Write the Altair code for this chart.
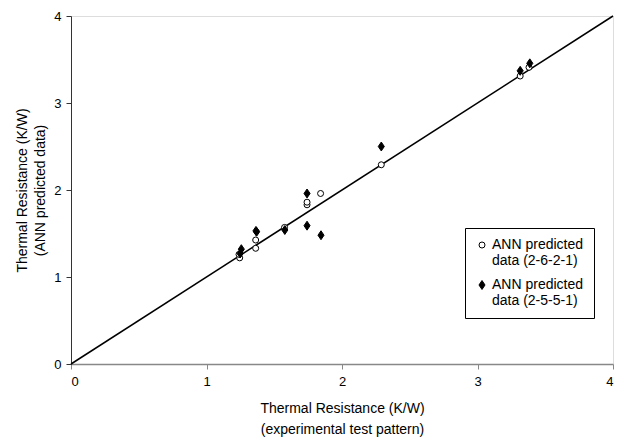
import altair as alt
import pandas as pd

# ANN predicted data (2-6-2-1): open circles
x_a = [1.245, 1.24, 1.363, 1.363, 1.576, 1.742, 1.742, 1.842, 2.29, 3.315, 3.38]
y_a = [1.22, 1.26, 1.33, 1.425, 1.57, 1.83, 1.86, 1.96, 2.29, 3.31, 3.41]
# ANN predicted data (2-5-5-1): filled diamonds
x_b = [1.248, 1.257, 1.365, 1.37, 1.578, 1.742, 1.742, 1.845, 2.29, 3.315, 3.386]
y_b = [1.27, 1.32, 1.53, 1.52, 1.54, 1.96, 1.59, 1.48, 2.50, 3.37, 3.456]

series_names = ["ANN predicted data (2-6-2-1)", "ANN predicted data (2-5-5-1)"]
line_x = [0, 4]
line_y = [0, 4]
ticks = [0, 1, 2, 3, 4]

df = pd.DataFrame({
    "x": x_a + x_b,
    "y": y_a + y_b,
    "series": [series_names[0]] * len(x_a) + [series_names[1]] * len(x_b),
})
df_line = pd.DataFrame({"x": line_x, "y": line_y})

FONT = "Liberation Sans"

xs = alt.Scale(domain=[0, 4], nice=False, zero=False)
ys = alt.Scale(domain=[0, 4], nice=False, zero=False)

xaxis = alt.Axis(
    values=ticks, format="d", grid=False,
    title=["Thermal Resistance (K/W)", "(experimental test pattern)"],
    titleFontSize=14, titleFontWeight="normal", titleFont=FONT, titleColor="black",
    titleLineHeight=21, titleBaseline="middle", titleY=44,
    labelFontSize=13, labelFont=FONT, labelColor="black", labelPadding=6,
    domainColor="#888888", tickColor="#888888", tickSize=5, domainWidth=1.5,
)
yaxis = alt.Axis(
    values=ticks, format="d", grid=False,
    title=["Thermal Resistance (K/W)", "(ANN predicted data)"],
    titleFontSize=14, titleFontWeight="normal", titleFont=FONT, titleColor="black",
    titleLineHeight=18, titleBaseline="middle", titleAngle=-90, titleX=-49, titleY=174,
    labelFontSize=13, labelFont=FONT, labelColor="black", labelPadding=5,
    domainColor="#333333", tickColor="#333333", tickSize=5,
)

line = alt.Chart(df_line).mark_line(color="black", strokeWidth=1.5).encode(
    x=alt.X("x:Q", scale=xs, axis=xaxis),
    y=alt.Y("y:Q", scale=ys, axis=yaxis),
)

diamond_path = "M0,-1L0.68,0L0,1L-0.68,0Z"

legend = alt.Legend(
    title=None, orient="none", legendX=394, legendY=212,
    strokeColor="black", fillColor="white", padding=10,
    labelFont=FONT, labelFontSize=14, labelColor="black",
    labelExpr="[slice(datum.label, 0, 13), slice(datum.label, 14)]",
    rowPadding=10, symbolStrokeWidth=1, labelOffset=3,
)

pts = alt.Chart(df).mark_point(filled=False, stroke="black", strokeWidth=1, opacity=1).encode(
    x=alt.X("x:Q", scale=xs),
    y=alt.Y("y:Q", scale=ys),
    shape=alt.Shape("series:N", scale=alt.Scale(domain=series_names, range=["circle", diamond_path]), legend=legend),
    fill=alt.Fill("series:N", scale=alt.Scale(domain=series_names, range=["white", "black"]), legend=legend),
    size=alt.Size("series:N", scale=alt.Scale(domain=series_names, range=[36, 80]), legend=legend),
)

chart = alt.layer(line, pts).properties(
    width=542, height=348,
    autosize=alt.AutoSizeParams(type="none"),
    padding={"left": 63, "top": 8, "right": 3, "bottom": 73},
).configure_view(stroke=None).configure(background="white")

chart.save("out.html", embed_options={"renderer": "svg", "actions": False})
